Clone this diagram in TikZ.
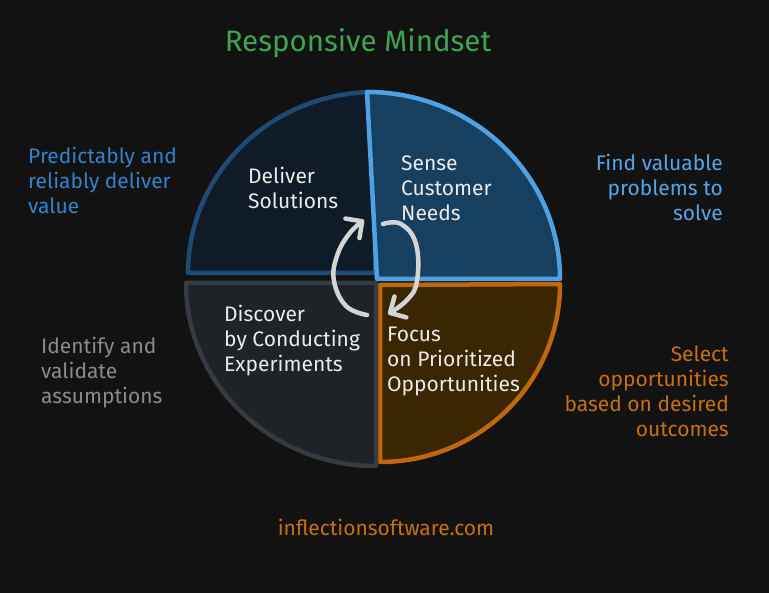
\documentclass[tikz,border=0pt]{standalone}
\usepackage{fontspec}
\setmainfont{Fira Sans}
\usetikzlibrary{arrows.meta}
\definecolor{bg}{HTML}{121212}
\definecolor{tlfill}{HTML}{0F1B27}
\definecolor{tlline}{HTML}{1E4B73}
\definecolor{trfill}{HTML}{173F60}
\definecolor{trline}{HTML}{4EA2E4}
\definecolor{brfill}{HTML}{3A2702}
\definecolor{brline}{HTML}{C0660C}
\definecolor{blfill}{HTML}{1F2327}
\definecolor{blline}{HTML}{363B41}
\definecolor{inner}{HTML}{EBEBEB}
\definecolor{arrowc}{HTML}{D4D4D4}
\definecolor{txtblue}{HTML}{3483C8}
\definecolor{txtlblue}{HTML}{56A6E6}
\definecolor{txtgray}{HTML}{878C92}
\definecolor{txtorange}{HTML}{C8700E}
\definecolor{txtgreen}{HTML}{3FA452}
\tikzset{
  quad/.style={line width=4.5pt, line join=round, line cap=round},
  body/.style={font=\fontsize{21}{25}\selectfont, inner sep=0pt},
  cyc/.style={draw=arrowc, line width=4.5pt, line cap=round, line join=round,
    -{Straight Barb[length=12pt,width=24pt,line width=4.5pt,round]}}
}
\begin{document}
\begin{tikzpicture}[x=1pt,y=-1pt]
\fill[bg] (0,0) rectangle (769,593);
\useasboundingbox (0,0) rectangle (769,593);
% quadrants
\draw[quad, fill=tlfill, draw=tlline] (375,273) -- (188,273) arc[start angle=180,end angle=270,x radius=187,y radius=181] -- cycle;
\draw[quad, fill=trfill, draw=trline] (377,279) -- (367,92) arc[start angle=270,end angle=360,x radius=193,y radius=187] -- cycle;
\draw[quad, fill=brfill, draw=brline] (380,285) -- (560,284) arc[start angle=0,end angle=90,x radius=180,y radius=178] -- cycle;
\draw[quad, fill=blfill, draw=blline] (186,283) -- (376,283) -- (376,466) arc[start angle=90,end angle=180,x radius=190,y radius=183] -- cycle;
% quadrant labels
\node[body, text=inner, align=left, anchor=west] (deliver) at (248,188) {Deliver\\Solutions};
\node[body, text=inner, align=left, anchor=west] (sense) at (401,188) {Sense\\Customer\\Needs};
\node[body, text=inner, align=left, anchor=west] (discover) at (224,341) {Discover\\by Conducting\\Experiments};
\node[body, text=inner, align=left, anchor=west] (focus) at (387,362) {Focus\\on Prioritized\\Opportunities};
% cycle arrows
\coordinate (a1s) at (367,315);
\coordinate (a1e) at (364,220);
\coordinate (a2s) at (383,224);
\coordinate (a2e) at (388,314);
\draw[cyc] plot[smooth, tension=0.7] coordinates {(a1s) (346,306) (334,281) (337,256) (349,234) (a1e)};
\draw[cyc] plot[smooth, tension=0.7] coordinates {(a2s) (401,224) (416,244) (417,281) (407,300) (a2e)};
% outer texts
\node[body, text=txtgreen, font=\fontsize{29.5}{34}\selectfont] (title) at (358,43) {Responsive Mindset};
\node[body, text=txtblue, align=left, anchor=west] (predict) at (28,180) {Predictably and\\reliably deliver\\value};
\node[body, text=txtlblue, align=right, anchor=east] (find) at (723,187) {Find valuable\\problems to\\solve};
\node[body, text=txtgray, align=left, anchor=west] (identify) at (41,373) {Identify and\\validate\\assumptions};
\node[body, text=txtorange, align=right, anchor=east] (select) at (729,391) {Select\\opportunities\\based on desired\\outcomes};
\node[body, text=txtorange] (site) at (386,527) {inflectionsoftware.com};
\end{tikzpicture}
\end{document}
